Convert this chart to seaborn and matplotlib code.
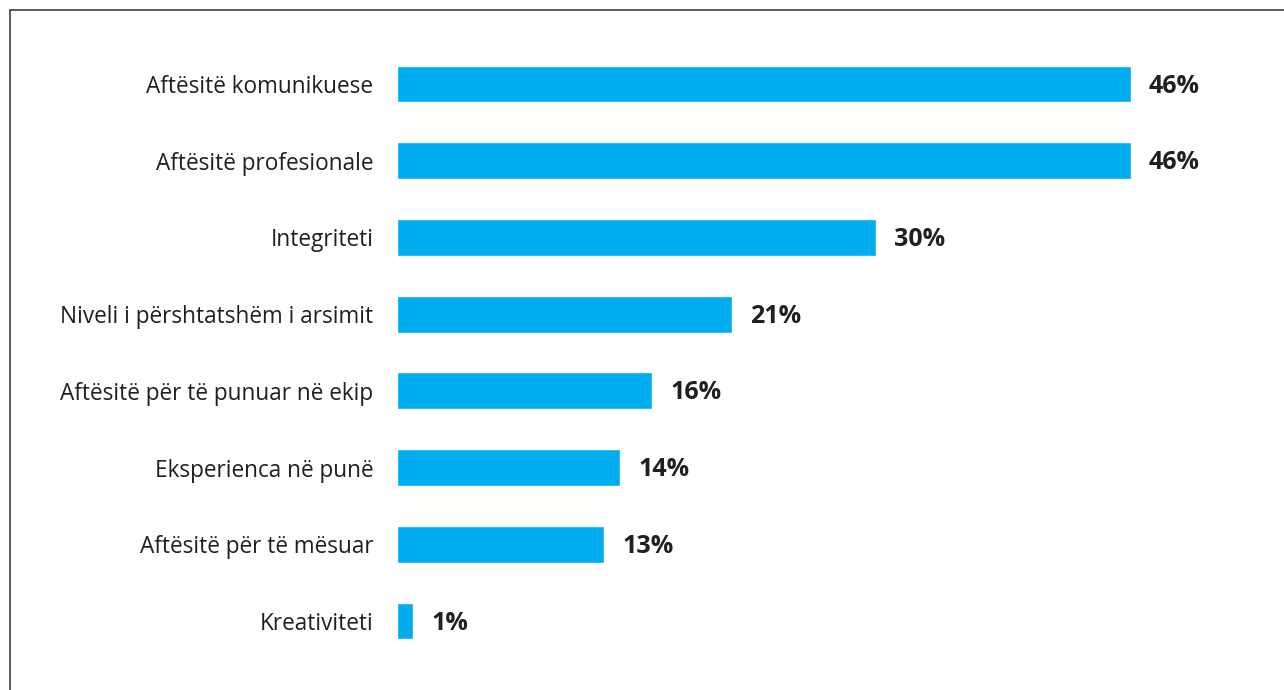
import matplotlib
matplotlib.use("Agg")
import matplotlib.pyplot as plt
from matplotlib.lines import Line2D
import seaborn as sns
import pandas as pd

categories = [
    "Aftësitë komunikuese",
    "Aftësitë profesionale",
    "Integriteti",
    "Niveli i përshtatshëm i arsimit",
    "Aftësitë për të punuar në ekip",
    "Eksperienca në punë",
    "Aftësitë për të mësuar",
    "Kreativiteti",
]
values = [46, 46, 30, 21, 16, 14, 13, 1]
value_labels = ["46%", "46%", "30%", "21%", "16%", "14%", "13%", "1%"]

BAR_COLOR = "#00AEEF"
TEXT_COLOR = "#231F20"

sns.set_theme(style="white")
plt.rcParams["font.family"] = ["Open Sans", "DejaVu Sans"]

df = pd.DataFrame({"category": categories, "value": values})

W, H = 1284, 690
fig = plt.figure(figsize=(W / 100, H / 100), dpi=100)
fig.patch.set_facecolor("white")

# axes box: zero at x=397px, 46% at x=1131px
left = 397 / W
width = (1131 - 397) / W
top_px, bot_px = 45.6, 659.4
ax = fig.add_axes([left, 1 - bot_px / H, width, (bot_px - top_px) / H])

sns.barplot(data=df, x="value", y="category", orient="h", color=BAR_COLOR,
            width=0.48, saturation=1, ax=ax)

ax.set_xlim(0, 46)
ax.set_ylim(len(categories) - 0.5, -0.5)
ax.set_xlabel("")
ax.set_ylabel("")
ax.set_xticks([])
ax.tick_params(axis="y", length=0, pad=17, labelsize=16.3, labelcolor=TEXT_COLOR)
for s in ax.spines.values():
    s.set_visible(False)

for i, (v, lab) in enumerate(zip(values, value_labels)):
    ax.annotate(lab, xy=(v, i), xytext=(13, -1.5), textcoords="offset points",
                ha="left", va="center", fontsize=18, fontweight="bold",
                color=TEXT_COLOR, annotation_clip=False)

# outer frame (top and left edges)
fig.add_artist(Line2D([9.5 / W, 1], [1 - 9.5 / H, 1 - 9.5 / H],
                      transform=fig.transFigure, color="#4D4D4D", lw=1.3))
fig.add_artist(Line2D([9.5 / W, 9.5 / W], [0, 1 - 9.5 / H],
                      transform=fig.transFigure, color="#4D4D4D", lw=1.3))

fig.savefig("out.png", dpi=100, facecolor="white")
